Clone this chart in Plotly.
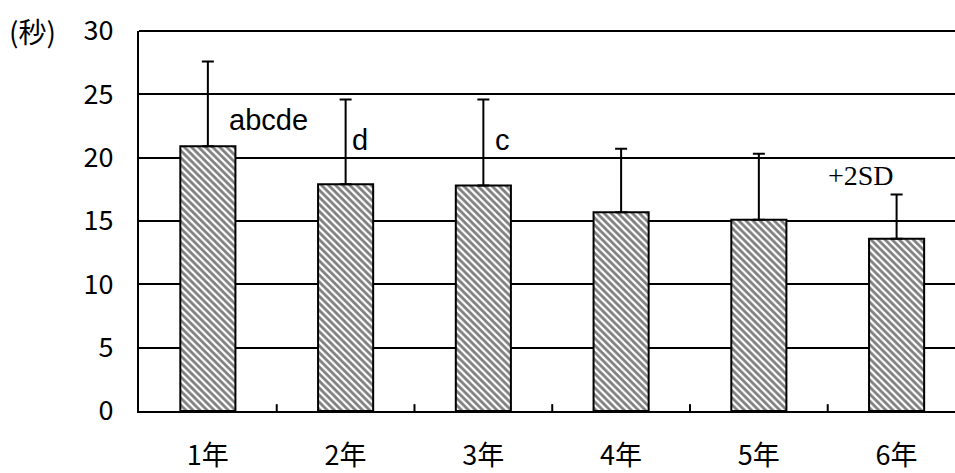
import plotly.graph_objects as go

# 学年別の平均値と +SD の上端（秒）
grades = ["1年", "2年", "3年", "4年", "5年", "6年"]
means = [20.9, 17.9, 17.8, 15.7, 15.1, 13.6]
upper = [27.6, 24.6, 24.6, 20.7, 20.3, 17.1]
sd = [u - m for u, m in zip(upper, means)]

y_ticks = [0, 5, 10, 15, 20, 25, 30]

# 有意差の記号: (カテゴリ位置, y, 文字, 横位置の基準)
sig_labels = [
    (0.44, 23.0, "abcde", "center"),
    (1.03, 21.4, "d", "left"),
    (2.07, 21.4, "c", "left"),
]

jp_font = "Noto Sans CJK JP"

fig = go.Figure()
fig.add_trace(go.Bar(
    x=list(range(len(grades))),
    y=means,
    width=0.4,
    marker=dict(
        color="white",
        line=dict(color="black", width=2),
        pattern=dict(shape="\\", fgcolor="black", bgcolor="white",
                     size=5, solidity=0.55),
    ),
    error_y=dict(type="data", array=sd, arrayminus=[0] * len(sd),
                 symmetric=False, color="black", thickness=2, width=6),
))

for x, y, txt, anchor in sig_labels:
    fig.add_annotation(x=x, y=y, text=txt, showarrow=False, xanchor=anchor,
                       yanchor="middle",
                       font=dict(family="Liberation Sans, Arial", size=29,
                                 color="black"))

fig.add_annotation(x=4.74, y=18.6, text="+2SD", showarrow=False,
                   xanchor="center", yanchor="middle",
                   font=dict(family="Liberation Serif, Times New Roman",
                             size=28, color="black"))

fig.add_annotation(xref="paper", yref="paper", x=-0.162, y=1.0, text="(秒)",
                   showarrow=False, xanchor="left", yanchor="middle",
                   font=dict(family=jp_font, size=28, color="black"))

fig.update_layout(
    width=955, height=473,
    margin=dict(l=139, r=0, t=31, b=55),
    paper_bgcolor="white", plot_bgcolor="white",
    showlegend=False,
    bargap=0.6,
    xaxis=dict(
        range=[-0.5, 5.424],
        tickmode="array", tickvals=list(range(len(grades))), ticktext=grades,
        showline=True, linecolor="black", linewidth=2,
        showgrid=False, zeroline=False,
        ticks="", ticklabelstandoff=20,
        tickfont=dict(family=jp_font, size=27, color="black"),
    ),
    yaxis=dict(
        range=[0, 30],
        tickmode="array", tickvals=y_ticks,
        showline=True, linecolor="black", linewidth=2,
        showgrid=True, gridcolor="black", gridwidth=2,
        zeroline=False, ticks="", ticklabelstandoff=18,
        tickfont=dict(family=jp_font, size=27, color="black"),
    ),
)

# 上端の枠線
fig.add_shape(type="line", xref="paper", yref="paper", x0=0, x1=1,
              y0=1, y1=1, line=dict(color="black", width=2))

# カテゴリ境界の内向き目盛り
for b in [0.5, 1.5, 2.5, 3.5, 4.5]:
    fig.add_shape(type="line", xref="x", yref="paper", x0=b, x1=b,
                  y0=0, y1=0.018, line=dict(color="black", width=2))

fig.write_html("out.html")
